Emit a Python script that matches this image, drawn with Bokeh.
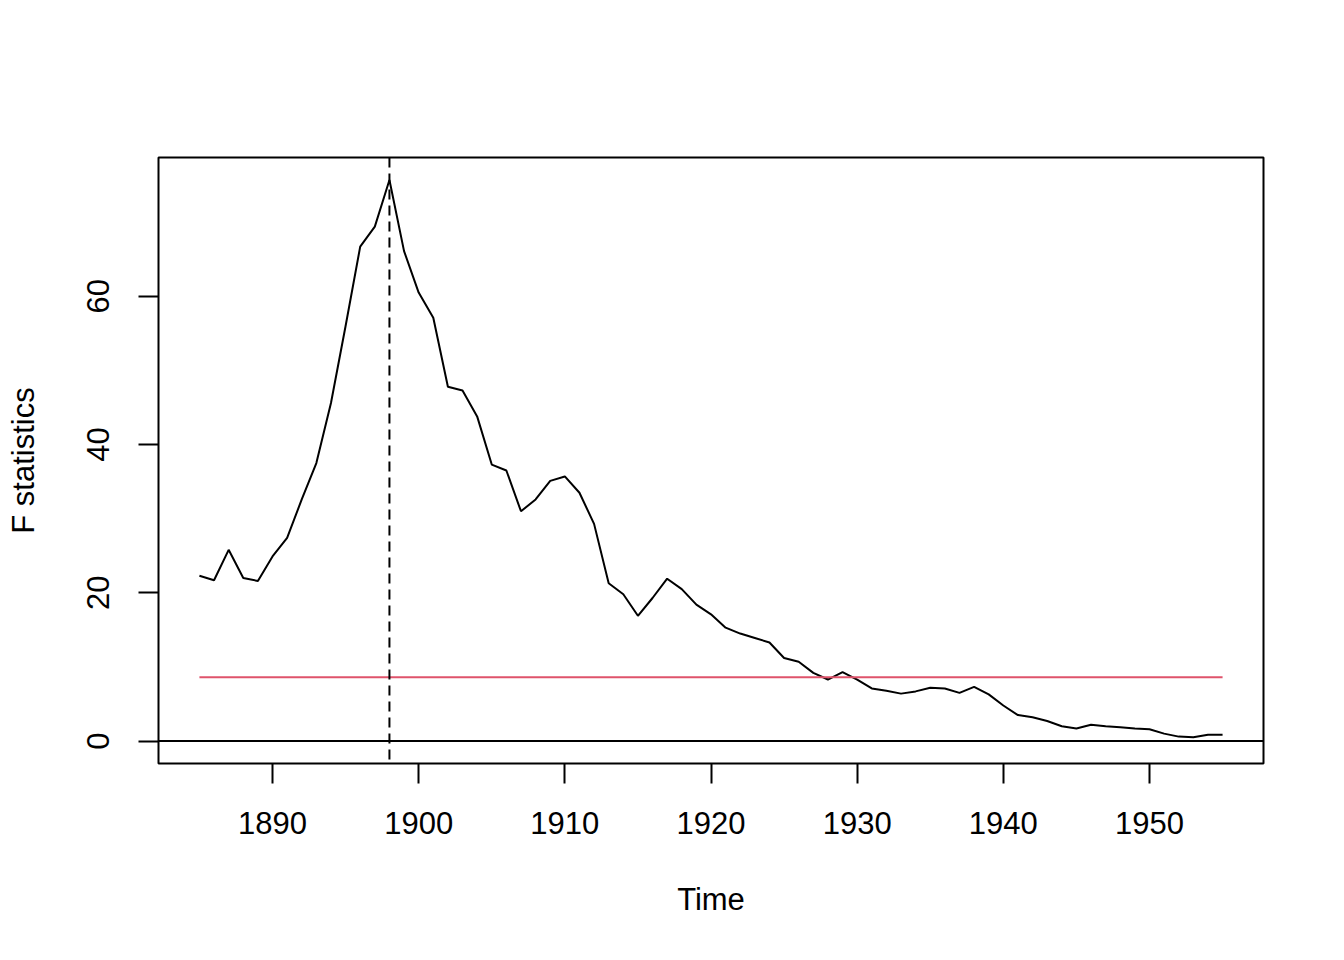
from bokeh.plotting import figure
from bokeh.models import Range1d, FixedTicker, Span
from bokeh.embed import file_html
from bokeh.resources import INLINE

years = list(range(1885, 1956))
fstats = [22.3, 21.7, 25.8, 22.0, 21.6, 24.9, 27.4, 32.6, 37.5, 45.6,
          56.0, 66.7, 69.4, 75.7, 66.1, 60.5, 57.1, 47.8, 47.3, 43.8,
          37.3, 36.5, 31.0, 32.6, 35.1, 35.7, 33.5, 29.3, 21.3, 19.8,
          16.9, 19.3, 21.9, 20.5, 18.4, 17.1, 15.3, 14.5, 13.9, 13.3,
          11.2, 10.7, 9.2, 8.3, 9.3, 8.3, 7.1, 6.8, 6.4, 6.7,
          7.2, 7.1, 6.5, 7.3, 6.3, 4.8, 3.5, 3.2, 2.7, 2.0,
          1.7, 2.2, 2.0, 1.85, 1.7, 1.6, 1.0, 0.6, 0.5, 0.85, 0.85]
boundary = 8.6
breakpoint = 1898
x_ticks = [1890, 1900, 1910, 1920, 1930, 1940, 1950]
y_ticks = [0, 20, 40, 60]

FONT = "Liberation Sans"

xpad = (years[-1] - years[0]) * 0.04
ymax = max(fstats)
ypad = ymax * 0.04

p = figure(width=1336, height=952, output_backend="svg", toolbar_location=None,
           x_range=Range1d(years[0] - xpad, years[-1] + xpad),
           y_range=Range1d(0 - ypad, ymax + ypad),
           min_border_left=158, min_border_right=73,
           min_border_top=157, min_border_bottom=189,
           background_fill_color="white", border_fill_color="white")

p.grid.visible = False
p.outline_line_color = "black"
p.outline_line_width = 2

for ax in (p.xaxis[0], p.yaxis[0]):
    ax.axis_line_color = None
    ax.major_tick_out = 20
    ax.major_tick_in = 0
    ax.major_tick_line_width = 2
    ax.major_tick_line_color = "black"
    ax.minor_tick_line_color = None
    ax.major_label_text_font = FONT
    ax.major_label_text_font_size = "31px"
    ax.major_label_text_color = "black"
    ax.axis_label_text_font = FONT
    ax.axis_label_text_font_size = "31px"
    ax.axis_label_text_font_style = "normal"
    ax.axis_label_text_color = "black"

p.xaxis[0].major_label_standoff = 28
p.xaxis[0].axis_label_standoff = 45
p.yaxis[0].major_label_standoff = 29
p.yaxis[0].axis_label_standoff = 44

p.xaxis[0].ticker = FixedTicker(ticks=x_ticks)
p.yaxis[0].ticker = FixedTicker(ticks=y_ticks)
p.yaxis[0].major_label_orientation = "vertical"
p.xaxis[0].axis_label = "Time"
p.yaxis[0].axis_label = "F statistics"

p.line(years, fstats, line_color="black", line_width=2)
p.line([years[0], years[-1]], [boundary, boundary], line_color="#DF536B", line_width=2)

p.add_layout(Span(location=0, dimension="width", line_color="black", line_width=2))
p.add_layout(Span(location=breakpoint, dimension="height", line_color="black",
                  line_width=2, line_dash="10 6"))

open("out.html", "w").write(file_html(p, INLINE))
